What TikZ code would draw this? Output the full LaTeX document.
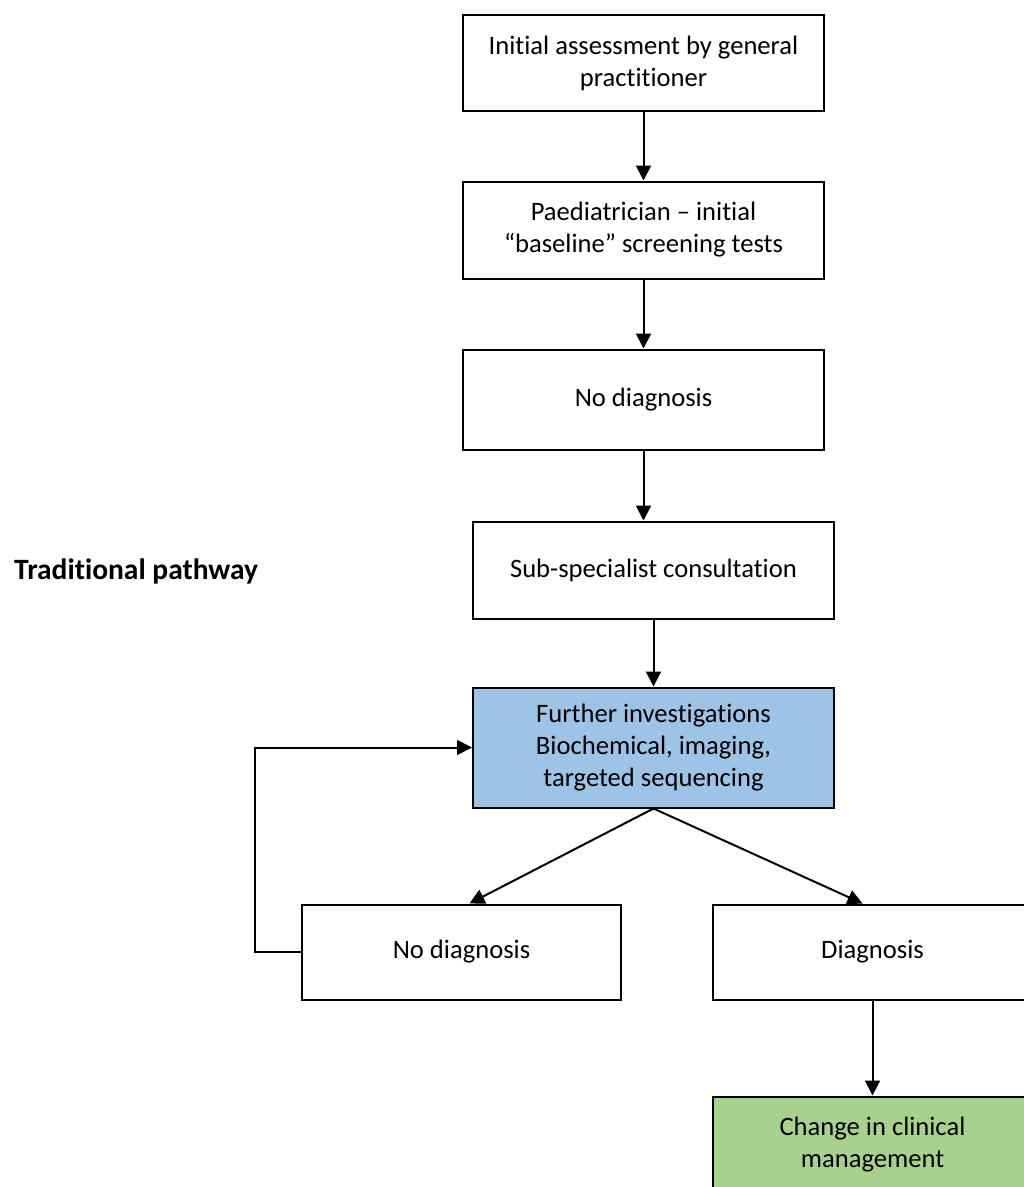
\documentclass[tikz,border=0pt]{standalone}
\usepackage{fontspec}
\setmainfont[Ligatures=TeX,RawFeature={-liga;-clig;-calt;-dlig}]{Carlito}
\usetikzlibrary{arrows.meta}
\definecolor{boxblue}{HTML}{9DC3E6}
\definecolor{boxgreen}{HTML}{A9D18E}
\begin{document}
\begin{tikzpicture}[x=1pt,y=-1pt,
  flowbox/.style={draw=black,line width=2pt,align=center,inner sep=0pt,
    font=\fontsize{26.6}{32}\selectfont},
  wide/.style={minimum width=361pt},
  narrow/.style={minimum width=319pt},
  conn/.style={line width=2pt,-{Triangle[width=15pt,length=15pt]}},
  lbl/.style={font=\fontsize{29.5}{35}\selectfont\bfseries,inner sep=0pt,anchor=west}]
\clip (0,0) rectangle (1024,1187);
\node[flowbox,wide,minimum height=96pt] (b1) at (643.5,63) {Initial assessment by general\\practitioner};
\node[flowbox,wide,minimum height=97pt] (b2) at (643.5,230) {Paediatrician – initial\\“baseline” screening tests};
\node[flowbox,wide,minimum height=100pt] (b3) at (643.5,399.5) {No diagnosis};
\node[flowbox,wide,minimum height=97pt] (b4) at (653.5,570) {Sub-specialist consultation};
\node[flowbox,wide,minimum height=120pt,fill=boxblue] (b5) at (653.5,747.5) {Further investigations\\Biochemical, imaging,\\targeted sequencing};
\node[flowbox,narrow,minimum height=95pt] (b6) at (461.5,952) {No diagnosis};
\node[flowbox,narrow,minimum height=95pt] (b7) at (872.5,952) {Diagnosis};
\node[flowbox,narrow,minimum height=96pt,fill=boxgreen] (b8) at (872.5,1144.5) {Change in clinical\\management};
\node[lbl] (title) at (14,571) {Traditional pathway};
\coordinate (loopa) at (255,952);
\coordinate (loopb) at (255,747.5);
\draw[conn] (b1.south) -- (b2.north);
\draw[conn] (b2.south) -- (b3.north);
\draw[conn] (b3.south) -- (b3.south |- b4.north);
\draw[conn] (b4.south) -- (b5.north);
\draw[conn] (b5.south) -- ([xshift=8pt]b6.north);
\draw[conn] (b5.south) -- ([xshift=-10pt]b7.north);
\draw[conn] (b6.west) -- (loopa) -- (loopb) -- (b5.west);
\draw[conn] (b7.south) -- (b8.north);
\end{tikzpicture}
\end{document}
